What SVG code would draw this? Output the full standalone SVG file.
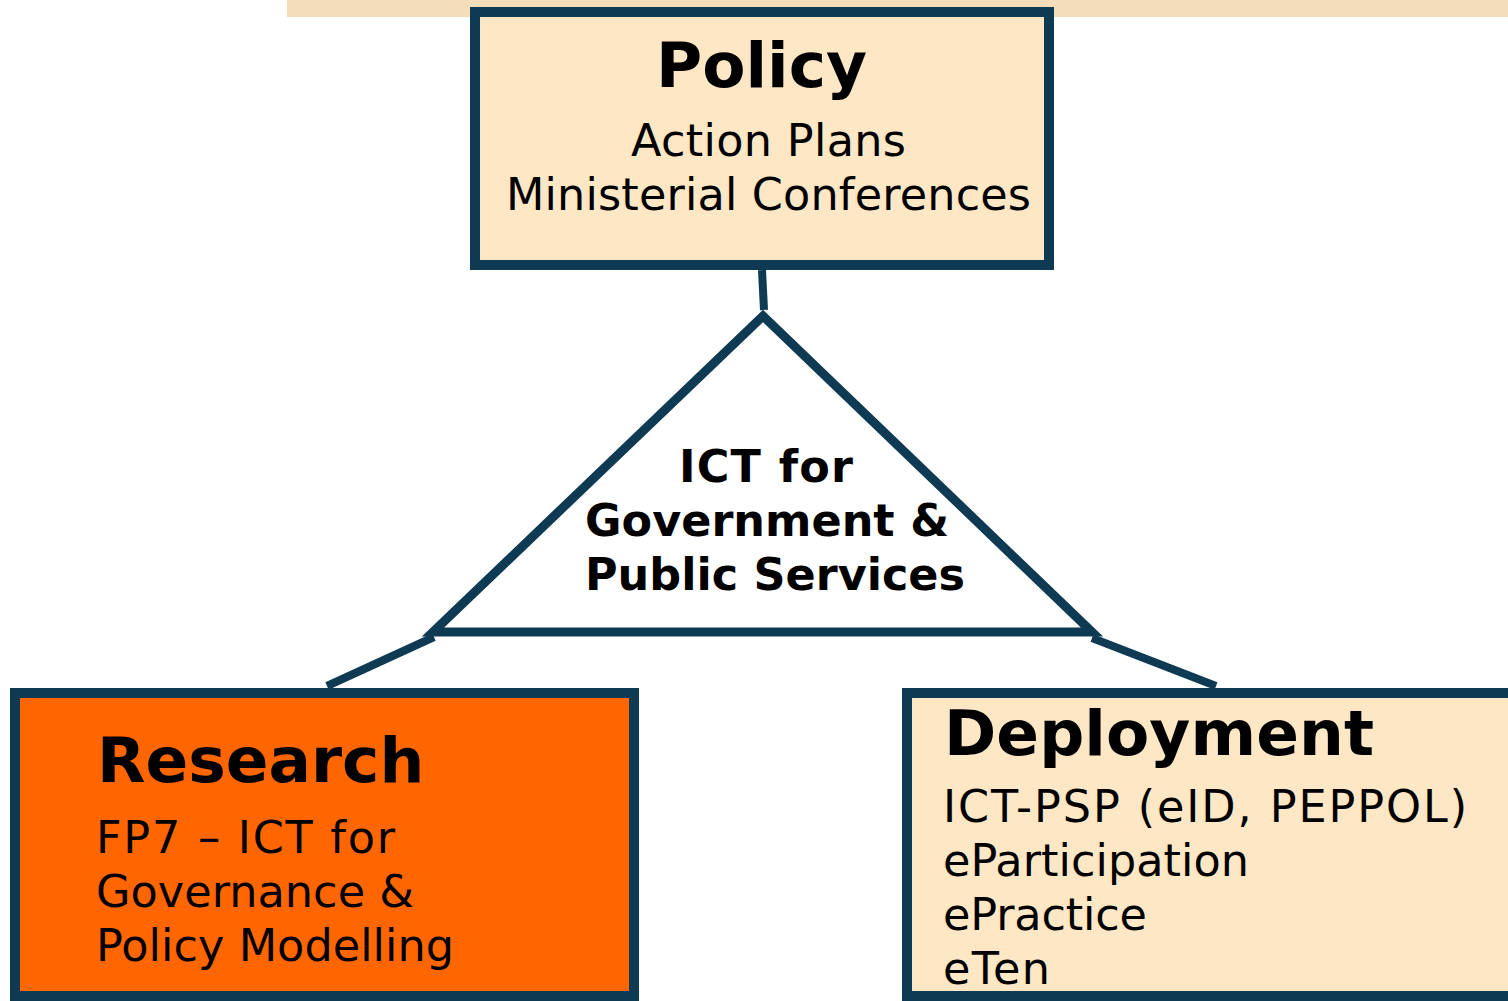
<svg xmlns="http://www.w3.org/2000/svg" width="1508" height="1001" viewBox="0 0 1508 1001">
  <style>
    .box { stroke: #0E3A53; stroke-width: 10; }
    .light { fill: #FDE7C5; }
    .orange { fill: #FF6600; }
    .conn { stroke: #0E3A53; stroke-width: 8; fill: none; }
    .title { font-family: "DejaVu Sans", Verdana, sans-serif; font-weight: bold; font-size: 63px; fill: #000; }
    .body { font-family: "DejaVu Sans", Verdana, sans-serif; font-size: 44.5px; fill: #000; }
    .bold { font-family: "DejaVu Sans", Verdana, sans-serif; font-weight: bold; font-size: 44.5px; fill: #000; }
  </style>
  <rect x="0" y="0" width="1508" height="1001" fill="#FFFFFF"/>
  <rect id="band" x="287" y="0" width="1221" height="17" fill="#F4DDBA"/>

  <g id="connectors">
    <line class="conn" x1="762" y1="270" x2="764" y2="310"/>
    <line class="conn" x1="434" y1="637" x2="327" y2="686"/>
    <line class="conn" x1="1092" y1="638" x2="1216" y2="686"/>
  </g>

  <g id="policy">
    <rect class="box light" x="475" y="12" width="574" height="253"/>
    <text class="title" x="656" y="87">Policy</text>
    <text class="body" x="631" y="156" textLength="275">Action Plans</text>
    <text class="body" x="506" y="210" textLength="525">Ministerial Conferences</text>
  </g>

  <g id="ict">
    <polygon points="763,316 433,632 1092,632" fill="#FFFFFF" stroke="#0E3A53" stroke-width="9" stroke-linejoin="miter"/>
    <text class="bold" x="679" y="482" textLength="174">ICT for</text>
    <text class="bold" x="585" y="536" textLength="364">Government &amp;</text>
    <text class="bold" x="585" y="590" textLength="380">Public Services</text>
  </g>

  <g id="research">
    <rect class="box orange" x="15" y="693" width="619" height="303"/>
    <text class="title" x="97" y="782">Research</text>
    <text class="body" x="96" y="853" textLength="299">FP7 – ICT for</text>
    <text class="body" x="96" y="907" textLength="318">Governance &amp;</text>
    <text class="body" x="96" y="961" textLength="358">Policy Modelling</text>
  </g>

  <g id="deployment">
    <rect class="box light" x="907" y="693" width="620" height="303"/>
    <text class="title" x="944" y="755" textLength="430">Deployment</text>
    <text class="body" x="943" y="822" textLength="524">ICT-PSP (eID, PEPPOL)</text>
    <text class="body" x="943" y="876" textLength="306">eParticipation</text>
    <text class="body" x="943" y="930" textLength="204">ePractice</text>
    <text class="body" x="943" y="984" textLength="107">eTen</text>
  </g>
</svg>
